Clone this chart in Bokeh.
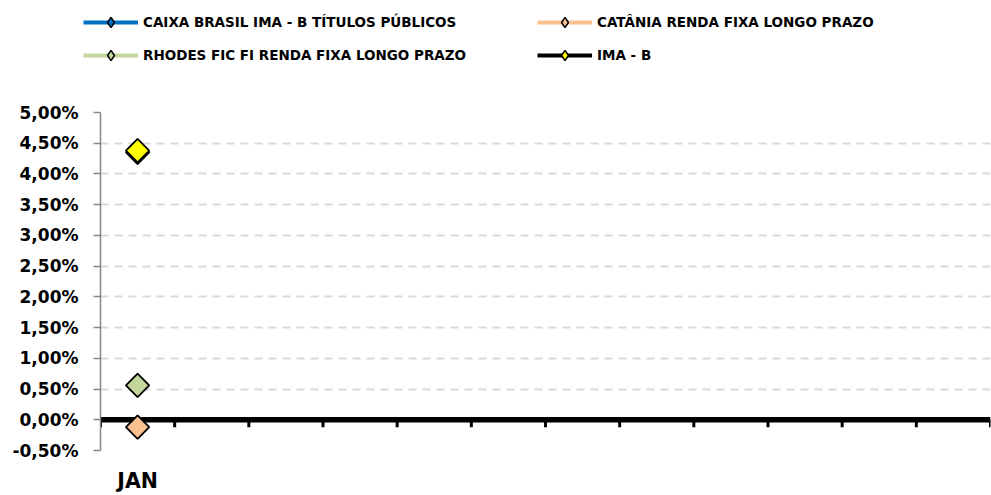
import math
from bokeh.plotting import figure
from bokeh.layouts import column, row
from bokeh.models import Range1d, FixedTicker, Span, Legend, LegendItem, ColumnDataSource
from bokeh.embed import file_html
from bokeh.resources import INLINE

# ---- data ----
months = ["JAN", "FEV", "MAR", "ABR", "MAI", "JUN", "JUL", "AGO", "SET", "OUT", "NOV", "DEZ"]
shown_months = ["JAN"]
data_months = ["JAN"]

name_caixa = "CAIXA BRASIL IMA - B TÍTULOS PÚBLICOS"
name_catania = "CATÂNIA RENDA FIXA LONGO PRAZO"
name_rhodes = "RHODES FIC FI RENDA FIXA LONGO PRAZO"
name_imab = "IMA - B"

caixa = [4.35]
catania = [-0.12]
rhodes = [0.56]
imab = [4.38]

y_ticks = [-0.5, 0.0, 0.5, 1.0, 1.5, 2.0, 2.5, 3.0, 3.5, 4.0, 4.5, 5.0]

color_caixa = "#0070C0"
color_catania = "#FAC090"
color_rhodes = "#C3D69B"
color_imab_line = "#000000"
color_imab_marker = "#FFFF00"

FONT = "DejaVu Sans"
LEG_H = 100

def mpos(m):
    return months.index(m) + 0.5

# ---------------- main chart ----------------
p = figure(width=991, height=495 - LEG_H,
           x_range=Range1d(0, len(months)), y_range=Range1d(y_ticks[0], y_ticks[-1]),
           output_backend="svg", toolbar_location=None,
           min_border_left=100, min_border_right=1, min_border_top=12, min_border_bottom=43)
p.outline_line_color = None
p.background_fill_color = "white"
p.border_fill_color = "white"

p.yaxis.ticker = FixedTicker(ticks=y_ticks)
p.yaxis.major_label_overrides = {t: ("%.2f%%" % t).replace(".", ",") for t in y_ticks}
p.yaxis.axis_line_color = "#868686"
p.yaxis.axis_line_width = 1.5
p.yaxis.major_tick_line_color = "#868686"
p.yaxis.major_tick_line_width = 1.5
p.yaxis.major_tick_out = 7
p.yaxis.major_tick_in = 0
p.yaxis.minor_tick_line_color = None
p.yaxis.major_label_standoff = 15
p.yaxis.major_label_text_font = FONT
p.yaxis.major_label_text_font_style = "bold"
p.yaxis.major_label_text_font_size = "17px"
p.yaxis.major_label_text_color = "black"

p.xaxis.ticker = FixedTicker(ticks=[mpos(m) for m in shown_months])
p.xaxis.major_label_overrides = {mpos(m): m for m in shown_months}
p.xaxis.axis_line_color = None
p.xaxis.major_tick_line_color = None
p.xaxis.major_tick_out = 0
p.xaxis.major_tick_in = 0
p.xaxis.minor_tick_line_color = None
p.xaxis.major_label_standoff = 18
p.xaxis.major_label_text_font = FONT
p.xaxis.major_label_text_font_style = "bold"
p.xaxis.major_label_text_font_size = "20.5px"
p.xaxis.major_label_text_color = "black"

p.xgrid.grid_line_color = None
p.ygrid.grid_line_color = "#D9D9D9"
p.ygrid.grid_line_width = 2
p.ygrid.grid_line_dash = "8 6"

p.add_layout(Span(location=0, dimension="width", line_color="black", line_width=5.5, level="underlay"))
bx = list(range(len(months) + 1))
p.segment(x0=bx, x1=bx, y0=[0] * len(bx), y1=[-0.12] * len(bx), line_color="black", line_width=3)

# ---------------- legend strip (its ranges lie away from the data) ----------------
lg = figure(width=991, height=LEG_H, x_range=Range1d(100, 101), y_range=Range1d(100, 101),
            output_backend="svg", toolbar_location=None,
            min_border_left=0, min_border_right=0, min_border_top=0, min_border_bottom=0)
lg.axis.visible = False
lg.grid.visible = False
lg.outline_line_color = None
lg.background_fill_color = "white"
lg.border_fill_color = "white"

def add_series(name, vals, line_color, marker_color):
    src = ColumnDataSource(dict(x=[mpos(m) for m in data_months], y=vals))
    p.line("x", "y", source=src, line_color=line_color, line_width=4)
    p.scatter("x", "y", source=src, marker="square", angle=math.pi / 4, size=16.5,
              fill_color=marker_color, line_color="black", line_width=1.8)
    lr = lg.line("x", "y", source=src, line_color=line_color, line_width=4)
    mr = lg.scatter("x", "y", source=src, marker="diamond", fill_color=marker_color,
                    line_color="black", line_width=1.5)
    return LegendItem(label=name, renderers=[lr, mr])

it_caixa = add_series(name_caixa, caixa, color_caixa, color_caixa)
it_catania = add_series(name_catania, catania, color_catania, color_catania)
it_rhodes = add_series(name_rhodes, rhodes, color_rhodes, color_rhodes)
it_imab = add_series(name_imab, imab, color_imab_line, color_imab_marker)

legend = Legend(items=[it_caixa, it_catania, it_rhodes, it_imab],
                location=(83, 32), orientation="horizontal", ncols=2,
                glyph_width=55, glyph_height=26, label_height=26, label_standoff=5,
                label_width=387, spacing=7, padding=0, margin=0,
                border_line_color=None, background_fill_alpha=0,
                label_text_font=FONT, label_text_font_style="bold",
                label_text_font_size="13.5px", label_text_color="black")
lg.add_layout(legend, "center")

layout = column(row(lg), p, spacing=0)
open("out.html", "w").write(file_html(layout, INLINE))
